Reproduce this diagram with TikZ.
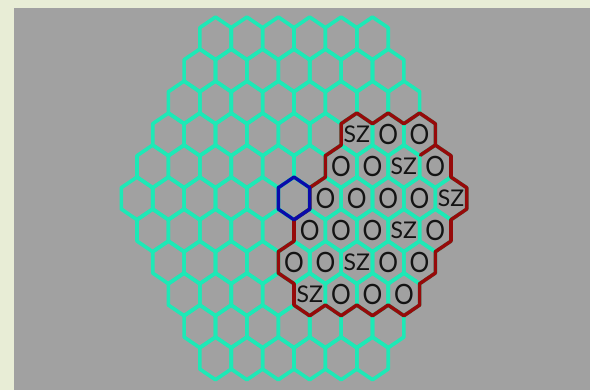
\documentclass[tikz,border=0pt]{standalone}
\usepackage{fontspec}
\setmainfont{Lato}
\definecolor{beige}{RGB}{232,237,214}
\definecolor{bggray}{RGB}{161,161,161}
\definecolor{turq}{RGB}{29,233,182}
\definecolor{outred}{RGB}{150,10,10}
\definecolor{hexblue}{RGB}{10,10,170}
\definecolor{labelink}{RGB}{20,20,20}
\tikzset{
  gridline/.style={draw=turq, line width=3.6pt, line join=round},
  redline/.style={draw=outred, line width=3.6pt, line join=round, line cap=round},
  blueline/.style={draw=hexblue, line width=3.4pt, line join=round},
  olabel/.style={inner sep=0pt, text=labelink, font=\fontsize{28}{28}\selectfont},
  szlabel/.style={inner sep=0pt, text=labelink, font=\fontsize{23}{23}\selectfont},
  hexcell/.pic={\path[pic actions] (0,-21.35) -- (15.7,-10.675) -- (15.7,10.675) -- (0,21.35) -- (-15.7,10.675) -- (-15.7,-10.675) -- cycle;}
}
\begin{document}
\begin{tikzpicture}[x=1pt,y=-1pt]
\useasboundingbox (0,0) rectangle (590,390);
\fill[beige] (0,0) rectangle (590,390);
\fill[bggray] (14,8) rectangle (590,390);
% hexagonal grid
\foreach \r in {0,...,10}{
  \pgfmathtruncatemacro\nm{10-abs(\r-5)}
  \foreach \j in {0,...,\nm}{
    \pgfmathsetmacro\cx{294+(\j-\nm/2)*31.4}
    \pgfmathsetmacro\cy{38.4+32*\r}
    \pic[gridline] at (\cx,\cy) {hexcell};
  }
}
% red outline
\draw[redline] (341.1,123.725) -- (356.8,113.05) -- (372.5,123.725) -- (388.2,113.05)
  -- (403.9,123.725) -- (419.6,113.05) -- (435.3,123.725) -- (435.3,145.075)
  -- (451,155.725) -- (451,177.075) -- (466.7,187.725) -- (466.7,209.075)
  -- (451,219.75) -- (451,241.075) -- (435.3,251.75) -- (435.3,273.075)
  -- (419.6,283.75) -- (419.6,305.075) -- (403.9,315.75) -- (388.2,305.075)
  -- (372.5,315.75) -- (356.8,305.075) -- (341.1,315.75) -- (325.4,305.075)
  -- (309.7,315.75) -- (294,305.075) -- (294,283.725) -- (278.3,273.075)
  -- (278.3,251.725) -- (294,241.075) -- (294,219.725) -- (309.7,209.075)
  -- (309.7,187.725) -- (325.4,177.075) -- (325.4,155.725) -- (341.1,145.075) -- cycle;
\draw[redline] (420.5,155.1) -- (435.3,145.075);
% blue cell
\pic[blueline] at (294,198.4) {hexcell};
% labels
\foreach \x/\y [count=\k] in {388.2/134.4, 419.6/134.4,
    341.1/166.4, 372.5/166.4, 435.3/166.4,
    325.4/198.4, 356.8/198.4, 388.2/198.4, 419.6/198.4,
    309.7/230.4, 341.1/230.4, 372.5/230.4, 435.3/230.4,
    294/262.4, 325.4/262.4, 388.2/262.4, 419.6/262.4,
    341.1/294.4, 372.5/294.4, 403.9/294.4}
  \node[olabel] (o\k) at (\x,\y) {\scalebox{0.88}[1]{O}};
\foreach \x/\y [count=\k] in {356.8/134.4, 403.9/166.4, 451/198.4,
    403.9/230.4, 356.8/262.4, 309.7/294.4}
  \node[szlabel] (sz\k) at (\x,\y) {SZ};
\end{tikzpicture}
\end{document}
